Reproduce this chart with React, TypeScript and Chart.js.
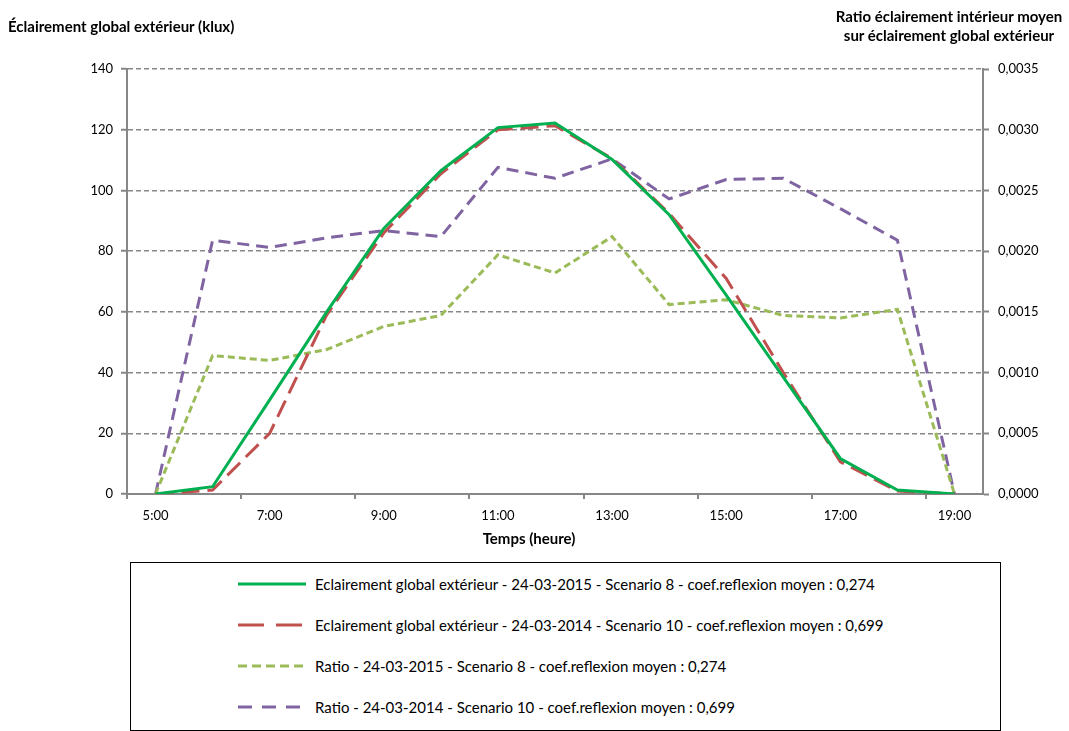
import React, { useEffect, useRef } from "react";
import { Chart, registerables } from "chart.js";

Chart.register(...registerables);

// ---- Data ----
const hours = [
  "5:00", "6:00", "7:00", "8:00", "9:00", "10:00", "11:00", "12:00",
  "13:00", "14:00", "15:00", "16:00", "17:00", "18:00", "19:00",
];

// Éclairement global extérieur (klux) — left axis
const eclairement2015 = [0, 2.4, 31, 60, 87.5, 106.5, 120.7, 122.2, 110.2, 92, 65.5, 38.5, 11.7, 1.3, 0];
const eclairement2014 = [0, 1.3, 20, 59, 86, 105.5, 120, 121.3, 110.5, 92.4, 71, 40, 10.6, 1, 0];

// Ratio éclairement intérieur moyen / éclairement global extérieur — right axis
const ratio2015 = [0, 0.00114, 0.0011, 0.00119, 0.00138, 0.00147, 0.00197, 0.00182, 0.00212, 0.00156, 0.0016, 0.00147, 0.00145, 0.00152, 0];
const ratio2014 = [0, 0.00209, 0.00203, 0.00211, 0.00217, 0.00212, 0.00269, 0.0026, 0.00276, 0.00243, 0.00259, 0.0026, 0.00235, 0.00209, 0];

const seriesLabels = [
  "Eclairement global extérieur - 24-03-2015 - Scenario 8 - coef.reflexion moyen : 0,274",
  "Eclairement global extérieur - 24-03-2014 - Scenario 10 - coef.reflexion moyen : 0,699",
  "Ratio - 24-03-2015 - Scenario 8 - coef.reflexion moyen : 0,274",
  "Ratio - 24-03-2014 - Scenario 10 - coef.reflexion moyen : 0,699",
];

const leftAxisTitle = "Éclairement global extérieur (klux)";
const rightAxisTitle = ["Ratio éclairement intérieur moyen", "sur éclairement global extérieur"];
const xAxisTitle = "Temps (heure)";

const leftMin = 0;
const leftMax = 140;
const leftStep = 20;
const rightMin = 0;
const rightMax = 0.0035;
const rightStep = 0.0005;

// ---- Styles ----
const FONT = "Lato, 'Open Sans', sans-serif";
const AXIS = "#878787";
const colors = ["#00B050", "#C0504D", "#9BBB59", "#8064A2"];
const dashes: number[][] = [[], [18, 8], [7, 4], [12, 7]];
const legendDash = ["", "26 12", "9 5", "14 10"];

export default function App() {
  const canvasRef = useRef<HTMLCanvasElement | null>(null);

  useEffect(() => {
    const canvas = canvasRef.current;
    if (!canvas) return;
    const tickFont = { family: FONT, size: 13 };
    const chart = new Chart(canvas, {
      type: "line",
      data: {
        labels: hours,
        datasets: [
          { label: seriesLabels[0], data: eclairement2015, yAxisID: "y" },
          { label: seriesLabels[1], data: eclairement2014, yAxisID: "y" },
          { label: seriesLabels[2], data: ratio2015, yAxisID: "y1" },
          { label: seriesLabels[3], data: ratio2014, yAxisID: "y1" },
        ].map((d, i) => ({
          ...d,
          borderColor: colors[i],
          backgroundColor: colors[i],
          borderWidth: 3,
          borderDash: dashes[i],
          pointRadius: 0,
          tension: 0,
          fill: false,
        })),
      },
      options: {
        animation: false,
        responsive: false,
        maintainAspectRatio: false,
        layout: { padding: { top: 69, left: 0, right: 0, bottom: 0 } },
        plugins: {
          legend: { display: false },
          tooltip: { enabled: false },
        },
        scales: {
          x: {
            type: "category",
            offset: true,
            grid: {
              offset: true,
              drawOnChartArea: false,
              drawTicks: true,
              tickLength: 5,
              lineWidth: 2,
              color: (ctx: any) => (ctx.index !== undefined && ctx.index % 2 === 0 ? AXIS : "rgba(0,0,0,0)"),
              tickColor: (ctx: any) => (ctx.index !== undefined && ctx.index % 2 === 0 ? AXIS : "rgba(0,0,0,0)"),
            },
            border: { color: AXIS, width: 2 },
            ticks: {
              autoSkip: false,
              maxRotation: 0,
              minRotation: 0,
              padding: 9,
              color: "#000",
              font: tickFont,
              callback: (_v: any, i: number) => (i % 2 === 0 ? hours[i] : ""),
            },
            afterFit: (s: any) => {
              s.height = 66;
            },
          },
          y: {
            position: "left",
            min: leftMin,
            max: leftMax,
            ticks: { stepSize: leftStep, padding: 8, color: "#000", font: tickFont },
            grid: {
              color: AXIS,
              lineWidth: 1.5,
              tickLength: 6,
              tickColor: AXIS,
              tickWidth: 2,
            },
            border: { color: AXIS, width: 2, dash: [5, 3] },
            afterFit: (s: any) => {
              s.width = 127;
            },
          },
          y1: {
            position: "right",
            min: rightMin,
            max: rightMax,
            ticks: {
              stepSize: rightStep,
              padding: 9,
              color: "#000",
              font: tickFont,
              callback: (v: any) => Number(v).toFixed(4).replace(".", ","),
            },
            grid: {
              drawOnChartArea: false,
              tickLength: 6,
              color: AXIS,
              tickColor: AXIS,
              tickWidth: 2,
            },
            border: { color: AXIS, width: 2 },
            afterFit: (s: any) => {
              s.width = 86;
            },
          },
        },
      } as any,
    });
    return () => chart.destroy();
  }, []);

  const legendRows = [584, 625, 666, 707];

  return (
    <div
      style={{
        position: "absolute",
        left: 0,
        top: 0,
        width: 1069,
        height: 731,
        background: "#fff",
        fontFamily: FONT,
        color: "#000",
        overflow: "hidden",
      }}
    >
      <canvas
        ref={canvasRef}
        width={1069}
        height={560}
        style={{ position: "absolute", left: 0, top: 0, width: 1069, height: 560 }}
      />
      <div style={{ position: "absolute", left: 8, top: 16, fontSize: 15, fontWeight: 700, whiteSpace: "nowrap", lineHeight: "20px" }}>
        {leftAxisTitle}
      </div>
      <div
        style={{
          position: "absolute",
          left: 829,
          width: 240,
          top: 7,
          fontSize: 15,
          fontWeight: 700,
          textAlign: "center",
          lineHeight: "19px",
          whiteSpace: "nowrap",
        }}
      >
        {rightAxisTitle.map((t, i) => (
          <div key={i}>{t}</div>
        ))}
      </div>
      <div
        style={{
          position: "absolute",
          left: 429,
          width: 200,
          top: 528,
          fontSize: 15,
          fontWeight: 700,
          textAlign: "center",
          lineHeight: "20px",
        }}
      >
        {xAxisTitle}
      </div>
      <div
        style={{
          position: "absolute",
          left: 130,
          top: 562,
          width: 871,
          height: 169,
          border: "1px solid #000",
          boxSizing: "border-box",
        }}
      />
      {seriesLabels.map((lbl, i) => (
        <div key={i}>
          <svg
            width={70}
            height={8}
            style={{ position: "absolute", left: 238, top: legendRows[i] - 4 }}
          >
            <line
              x1={0}
              y1={4}
              x2={68}
              y2={4}
              stroke={colors[i]}
              strokeWidth={3}
              strokeDasharray={legendDash[i] || undefined}
            />
          </svg>
          <div
            style={{
              position: "absolute",
              left: 315,
              top: legendRows[i] - 11,
              lineHeight: "22px",
              fontSize: 15,
              whiteSpace: "nowrap",
            }}
          >
            {lbl}
          </div>
        </div>
      ))}
    </div>
  );
}
